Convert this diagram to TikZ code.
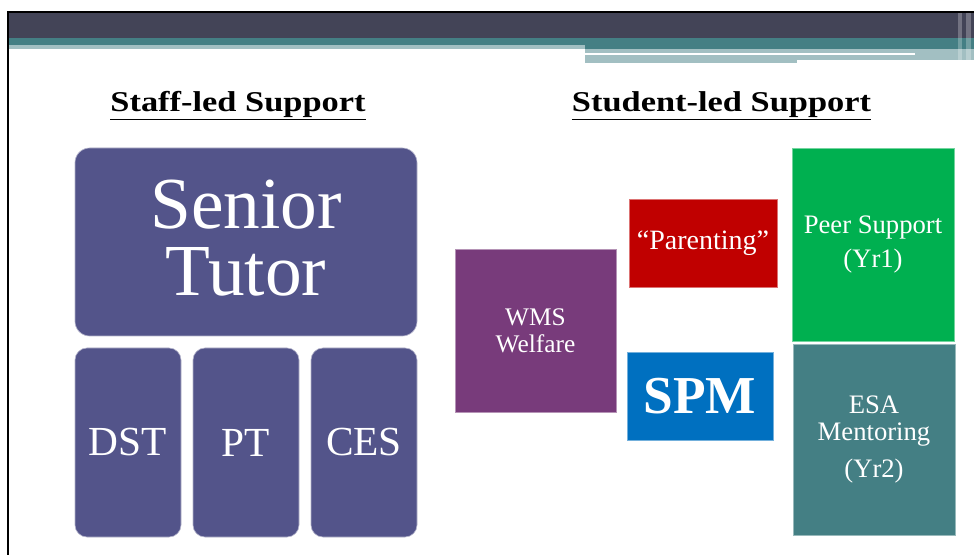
\documentclass[tikz,border=0pt]{standalone}
\usepackage{fontspec}
\setmainfont{Liberation Serif}
\newfontfamily\headfont[FakeStretch=1.2]{Liberation Serif}
\definecolor{barDark}{HTML}{434457}
\definecolor{barTeal}{HTML}{447F84}
\definecolor{barLight}{HTML}{A2BFC2}
\definecolor{staffBlue}{HTML}{53548A}
\definecolor{wmsPurple}{HTML}{783B7B}
\definecolor{parentRed}{HTML}{C00000}
\definecolor{peerGreen}{HTML}{00B050}
\definecolor{spmBlue}{HTML}{0070C0}
\begin{document}
\begin{tikzpicture}[x=0.75pt,y=-0.75pt,
    staffbox/.style={fill=staffBlue,draw=staffBlue!45,line width=0.5pt,
      rounded corners=9pt,text=white,align=center,inner sep=0pt},
    studentbox/.style={fill=#1,draw=#1!55,line width=0.5pt,text=white,
      align=center,inner sep=0pt,font=\fontsize{20}{20}\selectfont},
    heading/.style={font=\headfont\bfseries\fontsize{21.5}{24}\selectfont}]
  \useasboundingbox (0,0) rectangle (974,555);
  % title bar
  \fill[barDark] (8,12) rectangle (974,38);
  \fill[barTeal] (8,38) rectangle (974,45);
  \fill[barLight] (8,45) rectangle (585,49);
  \fill[barTeal] (585,45) rectangle (974,49);
  \fill[barLight] (585,49) rectangle (974,60.5);
  \fill[barLight] (585,60) rectangle (797,63);
  \draw[white,line width=1.2pt] (585,54) -- (915,54);
  \fill[white,opacity=0.25] (958,12) rectangle (962,63);
  \fill[white,opacity=0.25] (966,12) rectangle (971,63);
  \draw[line width=1.5pt] (8,555) -- (8,12) -- (974,12);

  % staff side
  \node[heading] (stafftitle) at (238,106) {\underline{Staff-led Support}};
  \node[staffbox,rounded corners=11pt,minimum width=256.5pt,minimum height=141pt,
    text depth=6pt,font=\fontsize{55}{50}\selectfont] (senior) at (246,242) {Senior\\Tutor};
  \node[staffbox,minimum width=79.5pt,minimum height=141.75pt,
    font=\fontsize{31}{31}\selectfont] (dst) at (128,442.5) {DST};
  \node[staffbox,minimum width=79.5pt,minimum height=141.75pt,
    font=\fontsize{31}{31}\selectfont] (pt) at (246,442.5) {PT};
  \node[staffbox,minimum width=79.5pt,minimum height=141.75pt,
    font=\fontsize{31}{31}\selectfont] (ces) at (364,442.5) {CES};

  % student side
  \node[heading] (studenttitle) at (721.5,106) {\underline{Student-led Support}};
  \node[studentbox=wmsPurple,minimum width=120.75pt,minimum height=122.25pt,
    font=\fontsize{19}{20}\selectfont] (wms) at (535.5,330.5) {WMS\\Welfare};
  \node[studentbox=parentRed,minimum width=111pt,minimum height=66pt,
    font=\fontsize{21}{21}\selectfont] (parenting) at (703,243) {“Parenting”};
  \node[studentbox=spmBlue,minimum width=109.5pt,minimum height=66pt,
    font=\bfseries\fontsize{40}{40}\selectfont] (spm) at (700,396) {SPM};
  \node[studentbox=peerGreen,minimum width=121.5pt,minimum height=144.75pt]
    (peer) at (873,244.5) {Peer Support\\[5pt](Yr1)};
  \node[studentbox=barTeal,minimum width=121.5pt,minimum height=143.25pt]
    (esa) at (874,439.5) {ESA\\Mentoring\\[8pt](Yr2)};
\end{tikzpicture}
\end{document}
